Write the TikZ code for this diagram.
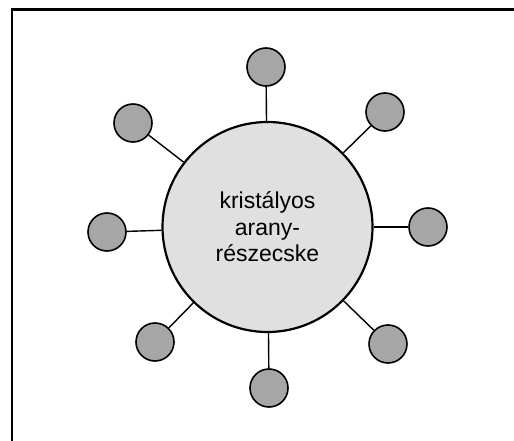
\documentclass[tikz,border=0pt]{standalone}
\usepackage{fontspec}
\setmainfont{Liberation Sans}
\begin{document}
\begin{tikzpicture}[x=1pt,y=-1pt,
        core/.style={circle,draw,line width=2.2pt,fill=black!12,minimum size=210pt,inner sep=0pt,align=center,font=\fontsize{23}{26.5}\selectfont},
        ligand/.style={circle,draw,line width=1.6pt,fill=black!35,minimum size=38pt,inner sep=0pt},
        stem/.style={line width=1.4pt}]
        \useasboundingbox (0,0) rectangle (514,441);
        \draw[line width=2.4pt] (12,441) -- (12,9.5) -- (514,9.5);
        \node[core] (gold) at (267.5,227) {kristályos\\arany-\\részecske};
        \node[ligand] (n) at (266,67) {};
        \node[ligand] (ne) at (385,112) {};
        \node[ligand] (e) at (428,227) {};
        \node[ligand] (se) at (388,344) {};
        \node[ligand] (s) at (269,388) {};
        \node[ligand] (sw) at (155,342) {};
        \node[ligand] (w) at (107,232) {};
        \node[ligand] (nw) at (133,123) {};
        \foreach \k in {n,ne,e,se,s,sw,w,nw}
            \draw[stem] (gold) -- (\k);
    \end{tikzpicture}
\end{document}
